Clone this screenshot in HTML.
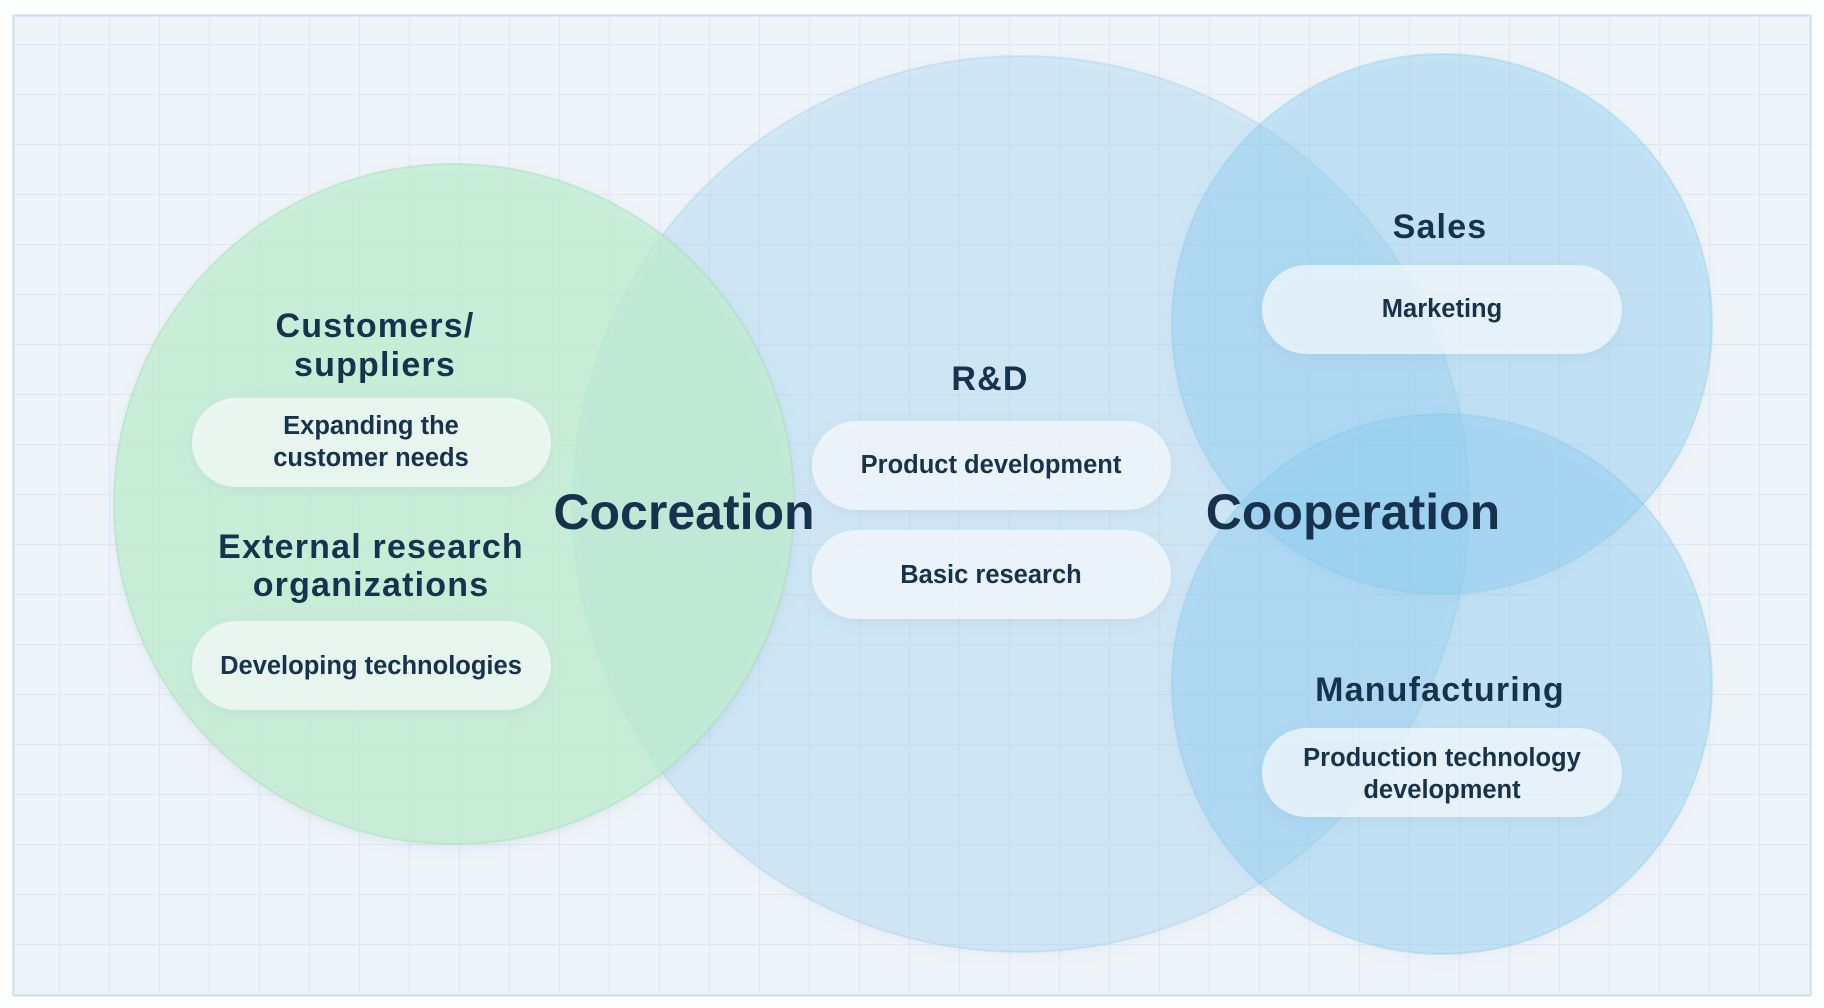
<!DOCTYPE html>
<html><head><meta charset="utf-8"><style>
html,body{margin:0;padding:0;background:#fff;}
svg{display:block;}
text{font-family:"Liberation Sans",sans-serif;font-weight:bold;fill:#17324d;text-anchor:middle;}
</style></head><body>
<svg width="1824" height="1008" viewBox="0 0 1824 1008" xmlns="http://www.w3.org/2000/svg">
<defs>
<pattern id="g" x="9" y="44" width="50" height="50" patternUnits="userSpaceOnUse">
<path d="M0 0.5H50M0.5 0V50" stroke="#dfe8f1" stroke-width="1.2" fill="none"/>
</pattern>
<filter id="sh" x="-20%" y="-20%" width="140%" height="140%"><feDropShadow dx="0" dy="4" stdDeviation="6" flood-color="#6a8fb0" flood-opacity="0.18"/></filter>
</defs>
<rect x="0" y="0" width="1824" height="1008" fill="#fdfefe"/>
<rect x="13.5" y="15.5" width="1797" height="980" fill="#eff4f9" stroke="#cbdcee" stroke-width="2"/>
<rect x="14" y="16" width="1796" height="979" fill="url(#g)"/>

<circle cx="1021" cy="504" r="448" fill="rgba(172,218,242,0.42)" stroke="rgba(150,200,230,0.3)" stroke-width="2" filter="url(#sh)"/>
<circle cx="454" cy="504" r="340" fill="rgba(190,238,205,0.72)" stroke="rgba(160,215,180,0.4)" stroke-width="2" filter="url(#sh)"/>
<circle cx="1442" cy="324" r="270" fill="rgba(135,205,242,0.4)" stroke="rgba(130,195,230,0.3)" stroke-width="2" filter="url(#sh)"/>
<circle cx="1442" cy="684" r="270" fill="rgba(135,205,242,0.4)" stroke="rgba(130,195,230,0.3)" stroke-width="2" filter="url(#sh)"/>

<g fill="rgba(255,255,255,0.62)" filter="url(#sh)">
<rect x="192" y="398" width="359" height="89" rx="44.5"/>
<rect x="192" y="621" width="359" height="89" rx="44.5"/>
<rect x="812" y="421" width="359" height="89" rx="44.5"/>
<rect x="812" y="530" width="359" height="89" rx="44.5"/>
<rect x="1262" y="265" width="360" height="89" rx="44.5"/>
<rect x="1262" y="728" width="360" height="89" rx="44.5"/>
</g>

<g font-size="34" letter-spacing="1.2">
<text x="375" y="337">Customers/</text>
<text x="375" y="376">suppliers</text>
<text x="371" y="558">External research</text>
<text x="371" y="596">organizations</text>
<text x="990" y="390">R&amp;D</text>
<text x="1440" y="238">Sales</text>
<text x="1440" y="701">Manufacturing</text>
</g>
<g font-size="50">
<text x="684" y="529">Cocreation</text>
<text x="1353" y="529">Cooperation</text>
</g>
<g font-size="25.5">
<text x="371" y="434">Expanding the</text>
<text x="371" y="466">customer needs</text>
<text x="371" y="674">Developing technologies</text>
<text x="991" y="473">Product development</text>
<text x="991" y="583">Basic research</text>
<text x="1442" y="317">Marketing</text>
<text x="1442" y="766">Production technology</text>
<text x="1442" y="798">development</text>
</g>
</svg>
</body></html>
